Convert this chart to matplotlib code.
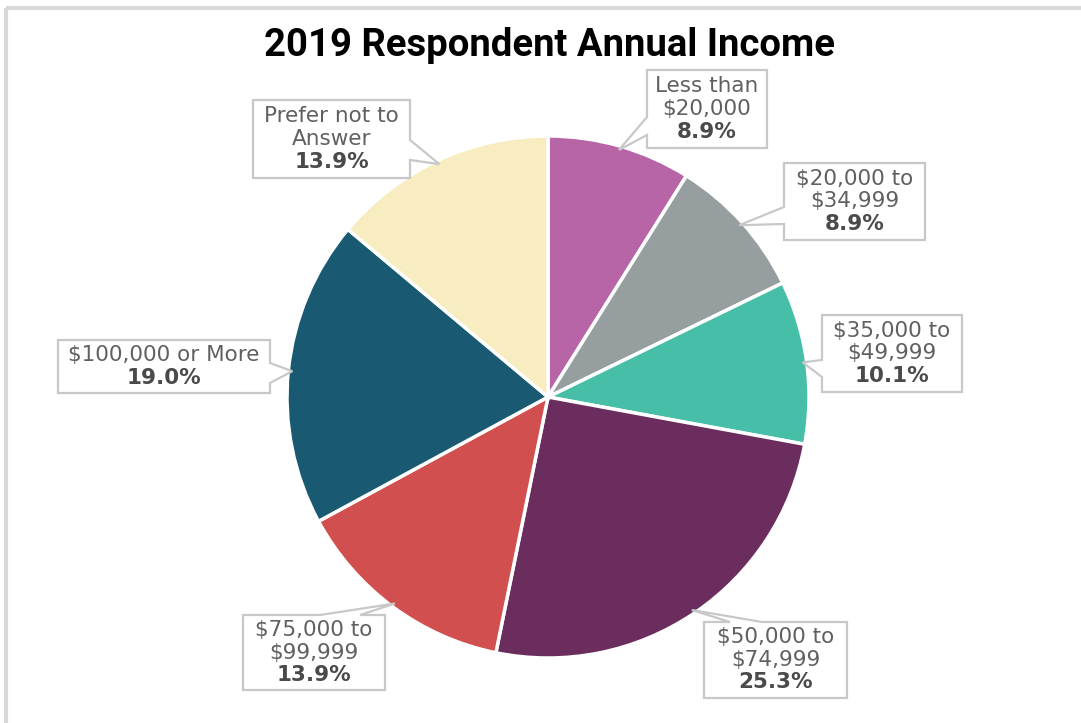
import numpy as np
import matplotlib
matplotlib.use("Agg")
import matplotlib.pyplot as plt
from matplotlib.patches import Polygon

# data
labels = ["Less than\n$20,000", "$20,000 to\n$34,999", "$35,000 to\n$49,999",
          "$50,000 to\n$74,999", "$75,000 to\n$99,999", "$100,000 or More",
          "Prefer not to\nAnswer"]
shares = [8.9, 8.9, 10.1, 25.3, 13.9, 19.0, 13.9]
colors = ["#B865A8", "#969E9F", "#47BFA8", "#6B2D5E", "#D14F4E", "#195A72", "#F7EDC0"]

W, H = 1081, 723

# callout boxes in pixel coords (x0, y0, x1, y1), tail side and base span
boxes = [
    ((647, 70, 767, 148),  "left",  (117, 135)),
    ((784, 163, 925, 240), "left",  (207, 224)),
    ((822, 315, 962, 392), "left",  (360, 377)),
    ((704, 622, 847, 698), "top",   (730, 762)),
    ((243, 615, 385, 690), "top",   (320, 360)),
    ((58, 340, 270, 393),  "right", (363, 383)),
    ((253, 100, 410, 178), "right", (140, 160)),
]

cx, cy, R = 548, 397, 261


def Y(y):
    return H - y


def callout(box, side, span, tip):
    x0, y0, x1, y1 = box
    a, b = span
    tl, tr, br, bl = (x0, y0), (x1, y0), (x1, y1), (x0, y1)
    if side == "top":
        pts = [tl, (a, y0), tip, (b, y0), tr, br, bl]
    elif side == "right":
        pts = [tl, tr, (x1, a), tip, (x1, b), br, bl]
    elif side == "left":
        pts = [tl, tr, br, bl, (x0, b), tip, (x0, a)]
    else:
        pts = [tl, tr, br, (b, y1), tip, (a, y1), bl]
    return [(px, Y(py)) for px, py in pts]


fig = plt.figure(figsize=(W / 100, H / 100), dpi=100)
ax = fig.add_axes([0, 0, 1, 1])

wedges, _ = ax.pie(shares, colors=colors, startangle=90, counterclock=False,
                   center=(cx, Y(cy)), radius=R,
                   wedgeprops=dict(edgecolor="white", linewidth=2.5))

for w, lab, val, (box, side, span) in zip(wedges, labels, shares, boxes):
    mid = np.deg2rad((w.theta1 + w.theta2) / 2)
    tip = (cx + (R - 4) * np.cos(mid), cy - (R - 4) * np.sin(mid))
    poly = Polygon(callout(box, side, span, tip), closed=True, facecolor="white",
                   edgecolor="#C8C8C8", linewidth=1.6, zorder=5)
    ax.add_patch(poly)
    lines = lab.split("\n")
    n = len(lines) + 1
    mid_y = (box[1] + box[3]) / 2
    xc = (box[0] + box[2]) / 2
    step = 22.5
    ys = [mid_y + (i - (n - 1) / 2) * step for i in range(n)]
    for ln, yy in zip(lines, ys[:-1]):
        ax.text(xc, Y(yy), ln, ha="center", va="center", fontsize=15.5,
                color="#606060", zorder=6)
    ax.text(xc, Y(ys[-1]), f"{val:.1f}%", ha="center", va="center", fontsize=15.5,
            fontweight="bold", color="#4A4A4A", zorder=6)

# frame lines (left and top)
ax.plot([6, 6], [Y(8), 0], color="#D9D9D9", lw=3, solid_capstyle="butt")
ax.plot([6, W], [Y(8), Y(8)], color="#D9D9D9", lw=3, solid_capstyle="butt")

ax.text(549, Y(46), "2019 Respondent Annual Income", ha="center", va="center",
        fontsize=27.5, fontweight="bold", family="Roboto", color="black")

ax.set_xlim(0, W)
ax.set_ylim(0, H)
ax.set_aspect("equal")
ax.axis("off")

fig.savefig("out.png", dpi=100)
